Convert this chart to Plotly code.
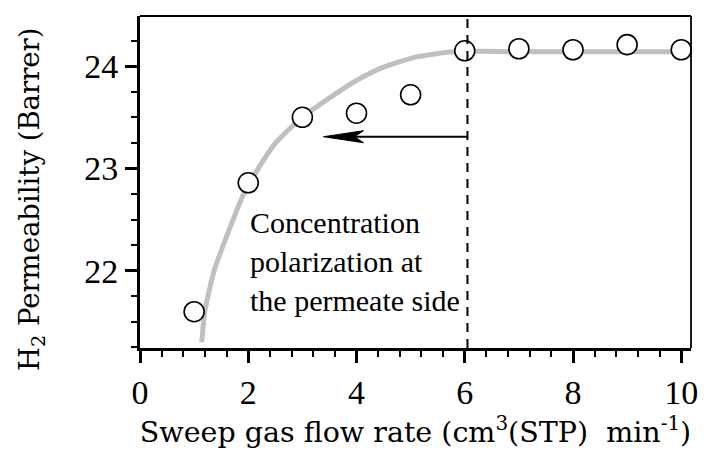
import plotly.graph_objects as go

# measured data
flow_rate = [1, 2, 3, 4, 5, 6, 7, 8, 9, 10]
permeability = [21.60, 22.86, 23.50, 23.54, 23.72, 24.15, 24.17, 24.16, 24.21, 24.16]

# grey trend curve
trend_x = [1.14, 1.20, 1.37, 1.64, 1.95, 2.49, 3.0, 3.53, 4.0, 4.5, 5.11, 5.78, 6.3, 7.0, 8.0, 9.0, 10.2]
trend_y = [21.30, 21.61, 22.0, 22.39, 22.79, 23.24, 23.50, 23.70, 23.86, 23.99, 24.09, 24.14, 24.145, 24.14, 24.14, 24.14, 24.14]

# annotation positions
critical_flow = 6.05
arrow_y = 23.31
arrow_tip_x = 3.39
note_x = 2.0
note_y = 22.09
note_text = "Concentration<br>polarization at<br>the permeate side"

x_range = [0, 10.18]
y_range = [21.245, 24.49]

x_title = "Sweep gas flow rate (cm<sup>3</sup>(STP)  min<sup>-1</sup>)"
y_title = "H<sub>2</sub> Permeability (Barrer)"

TITLE_FONT = "DejaVu Serif"
TICK_FONT = "Liberation Serif"
NOTE_FONT = "Liberation Serif"

fig = go.Figure()
fig.add_trace(go.Scatter(
    x=trend_x, y=trend_y, mode="lines",
    line=dict(color="#c0c0c0", width=5, shape="spline", smoothing=0.6),
    hoverinfo="skip", showlegend=False))
fig.add_trace(go.Scatter(
    x=flow_rate, y=permeability, mode="markers",
    marker=dict(symbol="circle", size=20, color="white",
                line=dict(color="black", width=1.6)),
    showlegend=False, cliponaxis=False))

# dashed vertical line
fig.add_shape(type="line", xref="x", yref="y domain", x0=critical_flow, x1=critical_flow,
              y0=0, y1=1, line=dict(color="black", width=2, dash="9px,7px"), layer="above")
# arrow shaft
fig.add_shape(type="line", xref="x", yref="y", x0=critical_flow, x1=arrow_tip_x + 0.5,
              y0=arrow_y, y1=arrow_y, line=dict(color="black", width=2), layer="above")
# arrow head (pixel-sized, anchored at the tip)
fig.add_shape(type="path", xref="x", yref="y", xsizemode="pixel", ysizemode="pixel",
              xanchor=arrow_tip_x, yanchor=arrow_y,
              path="M0,0 L40,6 L31,0 L40,-6 Z",
              fillcolor="black", line=dict(color="black", width=1), layer="above")
# top and right frame
fig.add_shape(type="line", xref="paper", yref="paper", x0=0, x1=1, y0=1, y1=1,
              line=dict(color="black", width=1.8), layer="above")
fig.add_shape(type="line", xref="paper", yref="paper", x0=1, x1=1, y0=0, y1=1,
              line=dict(color="black", width=1.8), layer="above")

fig.add_annotation(x=note_x, y=note_y, xref="x", yref="y", text=note_text,
                   showarrow=False, xanchor="left", yanchor="middle", align="left",
                   font=dict(family=NOTE_FONT, size=30, color="black"))

# y-axis title placed as a rotated annotation
fig.add_annotation(x=-0.197, y=0.45, xref="paper", yref="paper", text=y_title,
                   showarrow=False, textangle=-90, xanchor="center", yanchor="middle",
                   font=dict(family=TITLE_FONT, size=27.5, color="black"))

fig.update_layout(
    width=707, height=452,
    margin=dict(l=140, r=9, t=16, b=104),
    paper_bgcolor="white", plot_bgcolor="white",
    font=dict(family=TITLE_FONT, size=28, color="black"),
)
fig.update_xaxes(
    range=x_range, dtick=2, tick0=0, showgrid=False, zeroline=False,
    showline=True, linecolor="black", linewidth=3,
    ticks="outside", ticklen=12, tickwidth=2.5, tickcolor="black",
    minor=dict(dtick=0.4, ticks="outside", ticklen=6, tickwidth=2, tickcolor="black", showgrid=False),
    tickfont=dict(family=TICK_FONT, size=34),
    title=dict(text=x_title, font=dict(family=TITLE_FONT, size=28.5), standoff=12),
)
fig.update_yaxes(
    range=y_range, dtick=1, tick0=0, showgrid=False, zeroline=False,
    showline=True, linecolor="black", linewidth=3,
    ticks="outside", ticklen=12, tickwidth=2.5, tickcolor="black",
    minor=dict(dtick=0.25, ticks="outside", ticklen=6, tickwidth=2, tickcolor="black", showgrid=False),
    tickfont=dict(family=TICK_FONT, size=34),
)

fig.write_html("out.html")
